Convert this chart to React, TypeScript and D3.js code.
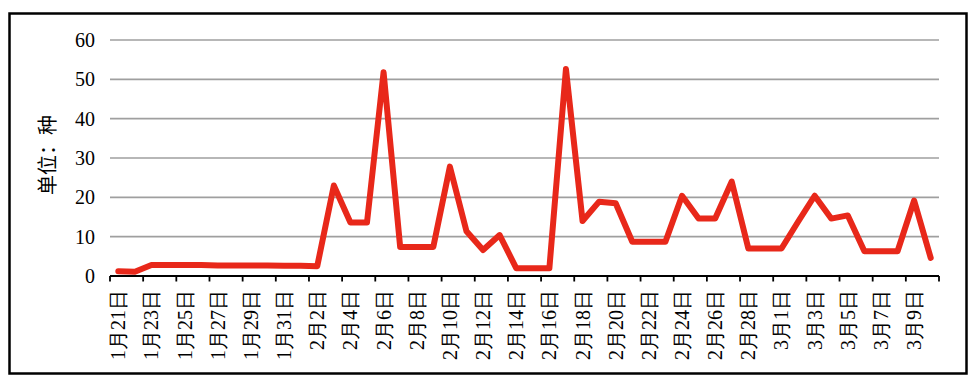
import React from "react";
import * as d3 from "d3";

const categories: string[] = [
  "1月21日","1月22日","1月23日","1月24日","1月25日","1月26日","1月27日","1月28日","1月29日","1月30日","1月31日",
  "2月1日","2月2日","2月3日","2月4日","2月5日","2月6日","2月7日","2月8日","2月9日","2月10日",
  "2月11日","2月12日","2月13日","2月14日","2月15日","2月16日","2月17日","2月18日","2月19日","2月20日",
  "2月21日","2月22日","2月23日","2月24日","2月25日","2月26日","2月27日","2月28日","2月29日",
  "3月1日","3月2日","3月3日","3月4日","3月5日","3月6日","3月7日","3月8日","3月9日","3月10日",
];

const values: number[] = [
  1.2, 1.1, 2.8, 2.8, 2.8, 2.8, 2.7, 2.7, 2.7, 2.7, 2.6,
  2.6, 2.5, 23, 13.6, 13.6, 51.8, 7.4, 7.4, 7.4, 27.8,
  11.4, 6.6, 10.4, 2, 2, 2, 52.6, 14, 18.9, 18.5,
  8.7, 8.7, 8.7, 20.4, 14.6, 14.6, 24, 7, 7,
  7, 13.8, 20.4, 14.6, 15.4, 6.3, 6.3, 6.3, 19.2, 4.6,
];

const yTicks: number[] = [0, 10, 20, 30, 40, 50, 60];
const yTitle = "单位：种";

const W = 976;
const H = 380;
const M = { left: 110, right: 37, top: 40, bottom: 104 };
const textStyle = { fontFamily: "Liberation Serif", fontSize: "20px" };
const titleStyle = { fontFamily: "Noto Sans CJK SC", fontSize: "20px" };

export default function App() {
  const x = d3
    .scaleBand<string>()
    .domain(categories)
    .range([M.left, W - M.right])
    .paddingInner(0)
    .paddingOuter(0);
  const y = d3.scaleLinear().domain([0, 60]).range([H - M.bottom, M.top]);

  const line = d3
    .line<number>()
    .x((_, i) => (x(categories[i]) as number) + x.bandwidth() / 2)
    .y((d) => y(d));

  const bw = x.bandwidth();
  const tickIdx = d3.range(0, categories.length + 1, 2);
  const labelIdx = d3.range(0, categories.length, 2);
  const y0 = y(0);

  return (
    <svg
      width={W}
      height={H}
      style={{ position: "fixed", left: 0, top: 0, background: "#fff" }}
    >
      <rect x={0} y={0} width={W} height={H} fill="#fff" />
      <rect x={9.5} y={13.5} width={957} height={360} fill="none" stroke="#000" strokeWidth={2.5} />
      {yTicks.map((t) => (
        <g key={t}>
          {t > 0 && (
            <line x1={M.left} x2={W - M.right} y1={y(t)} y2={y(t)} stroke="#9f9f9f" strokeWidth={1.6} />
          )}
          <text x={95} y={y(t)} textAnchor="end" dominantBaseline="central" style={textStyle} fill="#000">
            {t}
          </text>
        </g>
      ))}
      <line x1={M.left} x2={W - M.right} y1={y0} y2={y0} stroke="#000" strokeWidth={1.8} />
      {tickIdx.map((i) => (
        <line key={i} x1={M.left + i * bw} x2={M.left + i * bw} y1={y0} y2={y0 + 5.5} stroke="#000" strokeWidth={1.8} />
      ))}
      {labelIdx.map((i) => {
        const cx = (x(categories[i]) as number) + bw / 2;
        return (
          <text
            key={i}
            transform={`translate(${cx},${290}) rotate(-90)`}
            textAnchor="end"
            dominantBaseline="central"
            style={textStyle}
            fill="#000"
          >
            {categories[i]}
          </text>
        );
      })}
      <text
        transform={`translate(46,155) rotate(-90)`}
        textAnchor="middle"
        dominantBaseline="central"
        style={titleStyle}
        fill="#000"
      >
        {yTitle}
      </text>
      <path
        d={line(values) as string}
        fill="none"
        stroke="#e8281a"
        strokeWidth={6}
        strokeLinejoin="round"
        strokeLinecap="round"
      />
    </svg>
  );
}
